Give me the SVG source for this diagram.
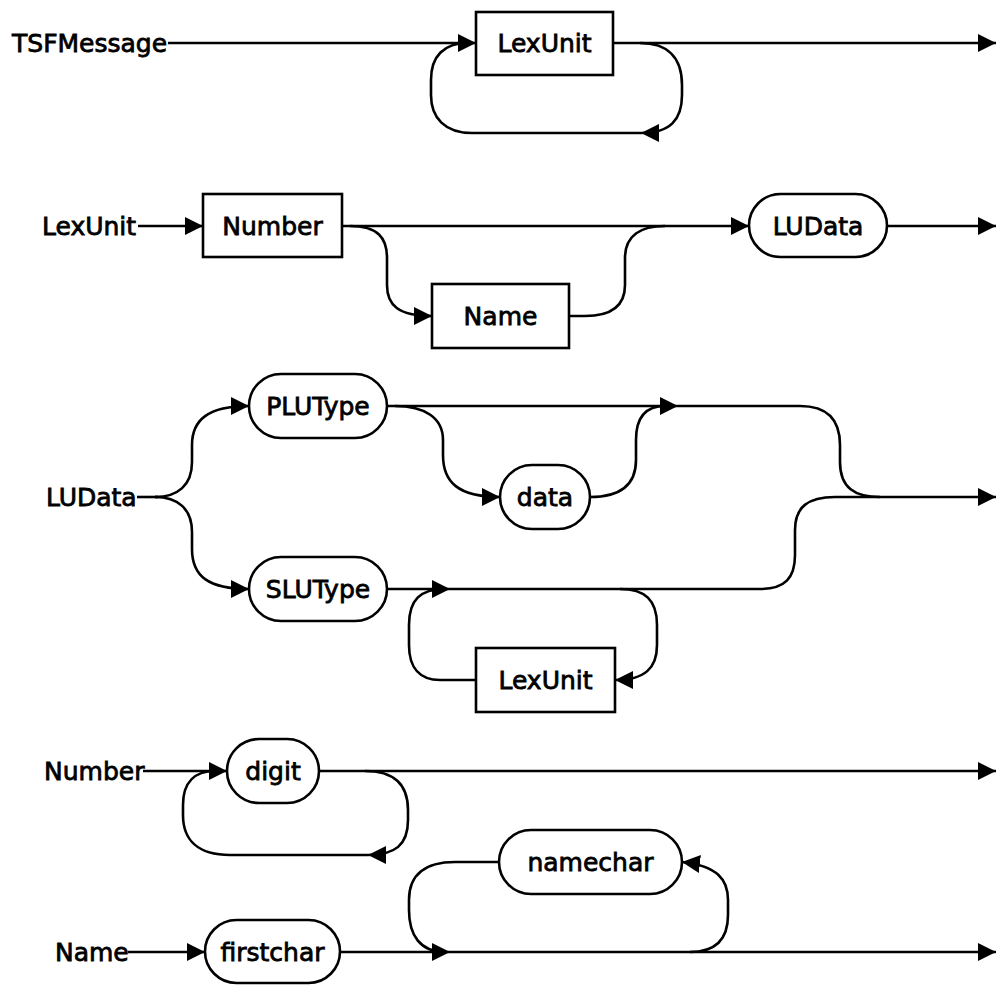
<svg xmlns="http://www.w3.org/2000/svg" width="997" height="985" viewBox="0 0 997 985">
<defs>
<marker id="a" viewBox="0 0 18 18" refX="18" refY="9" markerWidth="18" markerHeight="18" markerUnits="userSpaceOnUse" orient="auto"><path d="M0,0 L18,9 L0,18 z" fill="#000"/></marker>
<style>
.c{fill:none;stroke:#000;stroke-width:2.6}
.m{marker-end:url(#a)}
.n{fill:#fff;stroke:#000;stroke-width:2.6}
text{font-family:"DejaVu Sans","Verdana",sans-serif;font-size:25px;fill:#000;stroke:#000;stroke-width:0.8}
.t{text-anchor:middle}
</style>
</defs>
<rect width="997" height="985" fill="#fff"/>
<g id="connectors">
<path class="c m" d="M168,43 H476"/>
<path class="c m" d="M613,43 H996"/>
<path class="c m" d="M640,43 C668,43 682,58 682,85 L682,95 C682,120 670,133 641,133"/>
<path class="c" d="M641,133 H472 C445,133 431,118 431,95 L431,80 C431,56 444,43 468,43"/>
<path class="c m" d="M138,226 H203"/>
<path class="c m" d="M342,226 H749"/>
<path class="c m" d="M887,226 H996"/>
<path class="c m" d="M350,226 C378,226 387,238 387,258 L387,285 C387,305 398,316 432,316"/>
<path class="c" d="M569,316 H585 C612,316 625,305 625,285 L625,258 C625,236 640,226 665,226"/>
<path class="c" d="M137,497 H158"/>
<path class="c m" d="M155,497 C178,497 192,485 192,462 L192,445 C192,420 208,406 249,406"/>
<path class="c m" d="M155,497 C178,497 192,509 192,532 L192,549 C192,576 208,589 249,589"/>
<path class="c m" d="M387,406 H678"/>
<path class="c m" d="M395,406 C425,406 443,418 443,440 L443,455 C443,482 458,497 500,497"/>
<path class="c" d="M590,497 C620,497 636,485 636,460 L636,440 C636,415 648,406 665,406"/>
<path class="c m" d="M678,406 H800 C828,406 840,420 840,445 L840,462 C840,488 855,497 880,497 H996"/>
<path class="c m" d="M387,589 H450"/>
<path class="c" d="M450,589 H760 C785,589 795,578 795,555 L795,530 C795,507 808,497 835,497 H880"/>
<path class="c m" d="M620,589 C645,589 657,600 657,625 L657,645 C657,668 645,680 615,680"/>
<path class="c" d="M476,680 H440 C420,680 409,668 409,645 L409,625 C409,600 420,589 445,589"/>
<path class="c m" d="M143,771 H227"/>
<path class="c m" d="M319,771 H996"/>
<path class="c m" d="M365,771 C395,771 408,785 408,810 L408,820 C408,845 395,855 368,855"/>
<path class="c" d="M368,855 H230 C198,855 183,840 183,815 L183,805 C183,782 195,771 215,771"/>
<path class="c m" d="M128,952 H205"/>
<path class="c m" d="M340,952 H450"/>
<path class="c m" d="M450,952 H996"/>
<path class="c m" d="M690,952 C715,952 728,940 728,915 L728,900 C728,880 718,866 682,862"/>
<path class="c" d="M499,862 H455 C425,862 409,875 409,900 L409,910 C409,935 420,952 445,952"/>
</g>
<g id="labels">
<text x="12" y="52">TSFMessage</text>
<text x="42" y="235">LexUnit</text>
<text x="46" y="506">LUData</text>
<text x="44" y="780">Number</text>
<text x="55" y="961">Name</text>
</g>
<g id="node-lexunit1"><rect class="n" x="476" y="12" width="137" height="63"/><text class="t" x="544.5" y="52">LexUnit</text></g>
<g id="node-number"><rect class="n" x="203" y="194" width="139" height="63"/><text class="t" x="272.5" y="235">Number</text></g>
<g id="node-name"><rect class="n" x="432" y="284" width="137" height="64"/><text class="t" x="500.5" y="325">Name</text></g>
<g id="node-ludata"><rect class="n" x="749" y="194" width="138" height="63" rx="31.5"/><text class="t" x="818" y="235">LUData</text></g>
<g id="node-plutype"><rect class="n" x="249" y="374" width="138" height="64" rx="32"/><text class="t" x="318" y="415">PLUType</text></g>
<g id="node-data"><rect class="n" x="500" y="465" width="90" height="64" rx="32"/><text class="t" x="545" y="506">data</text></g>
<g id="node-slutype"><rect class="n" x="249" y="557" width="138" height="64" rx="32"/><text class="t" x="318" y="598">SLUType</text></g>
<g id="node-lexunit2"><rect class="n" x="476" y="648" width="139" height="64"/><text class="t" x="545.5" y="689">LexUnit</text></g>
<g id="node-digit"><rect class="n" x="227" y="739" width="92" height="64" rx="32"/><text class="t" x="273" y="780">digit</text></g>
<g id="node-firstchar"><rect class="n" x="205" y="920" width="135" height="63" rx="31.5"/><text class="t" x="272.5" y="961">firstchar</text></g>
<g id="node-namechar"><rect class="n" x="499" y="830" width="183" height="64" rx="32"/><text class="t" x="590.5" y="871">namechar</text></g>
</svg>
